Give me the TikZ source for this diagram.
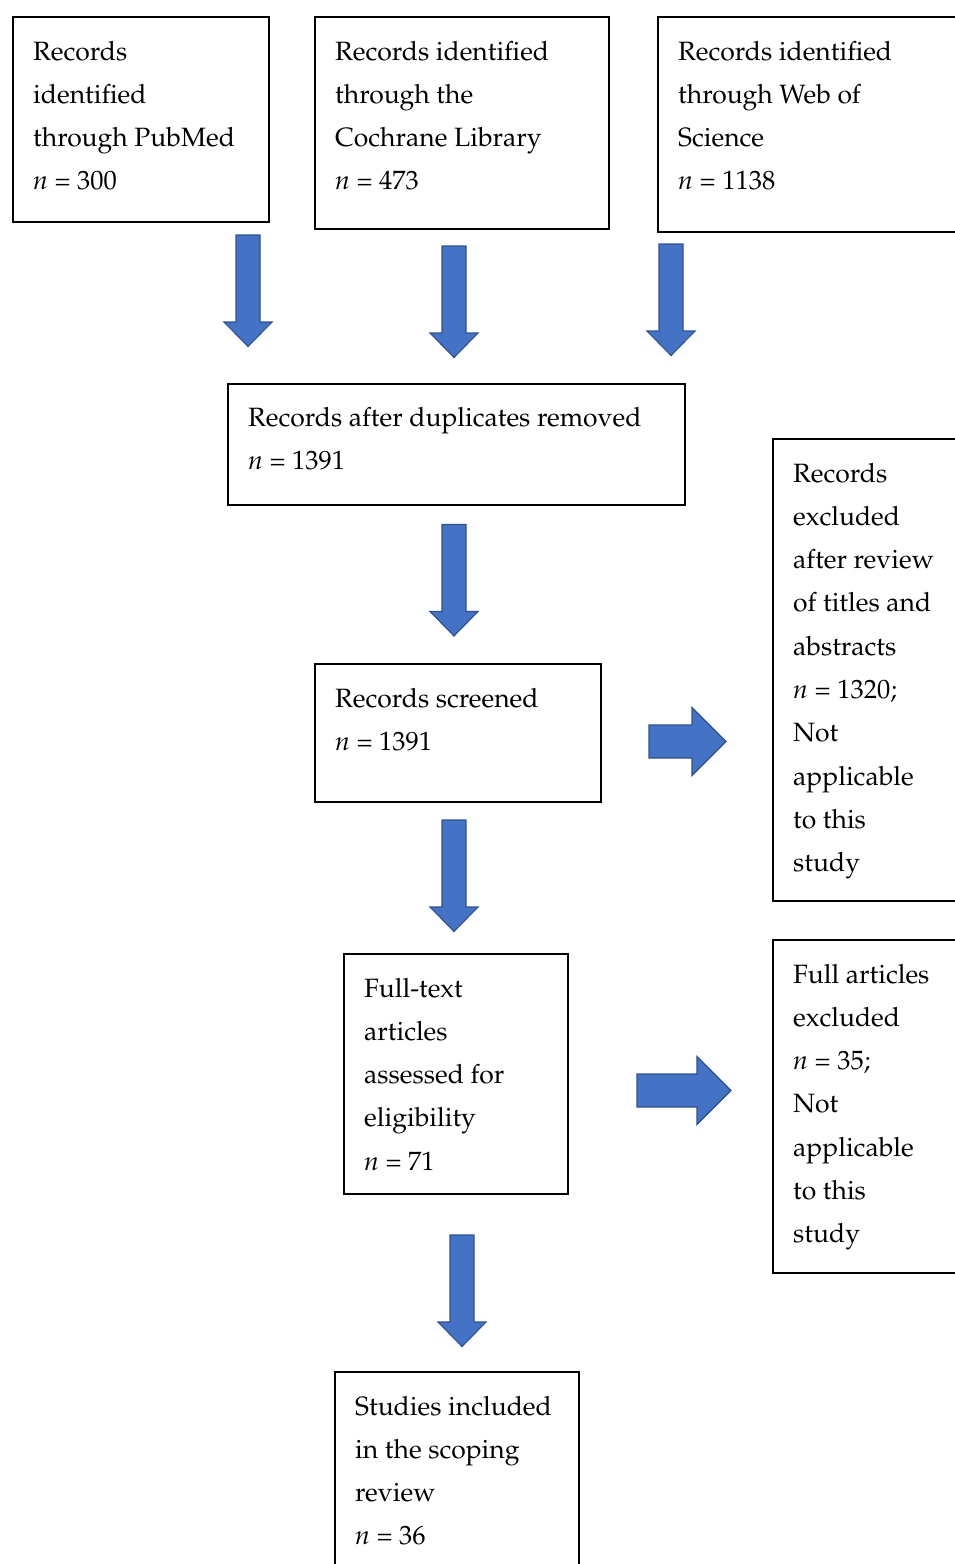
\documentclass[tikz,border=0pt]{standalone}
\usepackage[T1]{fontenc}
\usepackage{mathpazo}
\definecolor{afill}{HTML}{4472C4}
\definecolor{aline}{HTML}{2F528F}
\newcommand{\lns}[1]{\vtop{\baselineskip=43.3pt\lineskiplimit=-100pt #1}}
\newcommand{\li}[1]{\hbox{#1}}
\tikzset{
  box/.style={draw=black, line width=1.8pt, anchor=north west, inner sep=0pt},
  txt/.style={anchor=base west, inner sep=0pt, font=\fontsize{26.5}{43.3}\selectfont},
  blockarrow/.style={draw=aline, fill=afill, line width=1.1pt, line join=miter}
}
% down arrow: #1 name, #2 centre x, #3 top y
\newcommand{\downarrowshape}[3]{%
  \begin{scope}[shift={(#2,#3)}]
    \coordinate (#1) at (0,56);
    \path[blockarrow] (-12,0) -- (12,0) -- (12,87) -- (24,87) -- (0,111.5) -- (-24,87) -- (-12,87) -- cycle;
  \end{scope}}
% right arrow: #1 name, #2 left x, #3 centre y, #4 shaft length, #5 head length
\newcommand{\rightarrowshape}[5]{%
  \begin{scope}[shift={(#2,#3)}]
    \coordinate (#1) at (#4,0);
    \path[blockarrow] (0,-16.5) -- (#4,-16.5) -- (#4,-34) -- ({#4+#5},0) -- (#4,34) -- (#4,16.5) -- (0,16.5) -- cycle;
  \end{scope}}
\begin{document}
\begin{tikzpicture}[x=1pt,y=-1pt]
\useasboundingbox (0,0) rectangle (955,1564);
\clip (0,0) rectangle (955,1564);
% boxes
\node[box, minimum width=256pt, minimum height=205pt] (b1) at (12,16) {};
\node[box, minimum width=294pt, minimum height=212pt] (b2) at (314,16) {};
\node[box, minimum width=330pt, minimum height=215pt] (b3) at (657,16) {};
\node[box, minimum width=457pt, minimum height=121pt] (b4) at (227,383) {};
\node[box, minimum width=220pt, minimum height=462pt] (b5) at (772,438) {};
\node[box, minimum width=286pt, minimum height=138pt] (b6) at (314,663) {};
\node[box, minimum width=224pt, minimum height=240pt] (b7) at (343,953) {};
\node[box, minimum width=220pt, minimum height=333pt] (b8) at (772,939) {};
\node[box, minimum width=244pt, minimum height=240pt] (b9) at (334,1371) {};
% texts
\node[txt] (t1) at (33,60) {\lns{\li{Records}\li{identified}\li{through PubMed}\li{\textit{n} = 300}}};
\node[txt] (t2) at (335,60) {\lns{\li{Records identified}\li{through the}\li{Cochrane Library}\li{\textit{n} = 473}}};
\node[txt] (t3) at (678,60) {\lns{\li{Records identified}\li{through Web of}\li{Science}\li{\textit{n} = 1138}}};
\node[txt] (t4) at (248,426) {\lns{\li{Records after duplicates removed}\li{\textit{n} = 1391}}};
\node[txt] (t5) at (793,482) {\lns{\li{Records}\li{excluded}\li{after review}\li{of titles and}\li{abstracts}\li{\textit{n} = 1320;}\li{Not}\li{applicable}\li{to this}\li{study}}};
\node[txt] (t6) at (335,707) {\lns{\li{Records screened}\li{\textit{n} = 1391}}};
\node[txt] (t7) at (364,997) {\lns{\li{Full-text}\li{articles}\li{assessed for}\li{eligibility}\li{\textit{n} = 71}}};
\node[txt] (t8) at (793,983) {\lns{\li{Full articles}\li{excluded}\li{\textit{n} = 35;}\li{Not}\li{applicable}\li{to this}\li{study}}};
\node[txt] (t9) at (355,1415) {\lns{\li{Studies included}\li{in the scoping}\li{review}\li{\textit{n} = 36}}};
% block arrows
\downarrowshape{a1}{248}{235}
\downarrowshape{a2}{454}{246}
\downarrowshape{a3}{671}{244}
\downarrowshape{a4}{454}{524.5}
\downarrowshape{a5}{454}{820}
\downarrowshape{a6}{462}{1235}
\rightarrowshape{r1}{649}{741.5}{43}{34}
\rightarrowshape{r2}{637}{1090.5}{60}{34}
\end{tikzpicture}
\end{document}
